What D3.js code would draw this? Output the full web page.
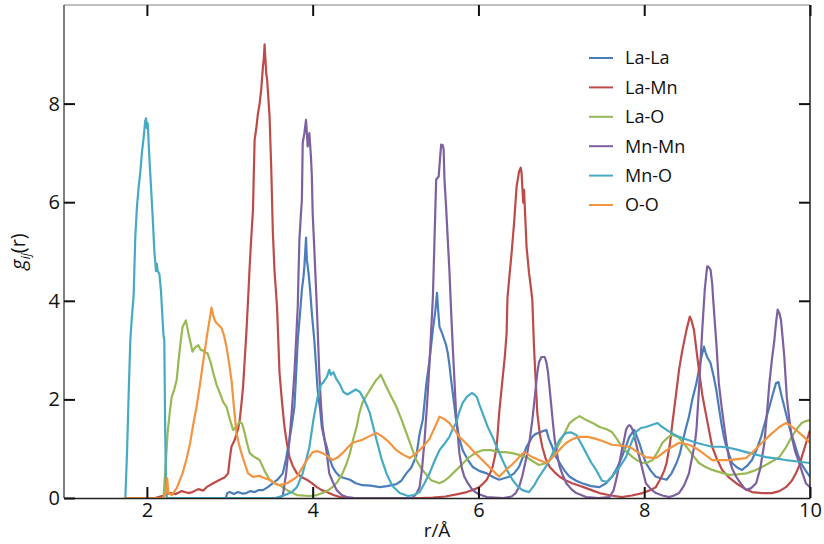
<!DOCTYPE html>
<html lang="en">
<head>
  <meta charset="UTF-8">
  <title>Partial radial distribution functions</title>
  <style>
    body { margin: 0; background: #fff; }
    svg { display: block; font-family: "Open Sans", "Noto Sans", sans-serif; }
  </style>
  <script src="https://d3js.org/d3.v7.min.js"></script>
</head>
<body>
  <svg id="chart" width="824" height="544"></svg>

  <script>
    // pair names, in legend order
    const pairNames = ['La-La', 'La-Mn', 'La-O', 'Mn-Mn', 'Mn-O', 'O-O'];
    const pairColors = ['#4a7ebb', '#be4b48', '#98b954', '#7d60a0', '#46aac5', '#f39440'];

    const xTicks = [2, 4, 6, 8, 10];
    const yTicks = [0, 2, 4, 6, 8];

    // g(r), [r, g]
    const laLa = [[2.95,0],[2.97,0.1],[3.0,0.12],[3.05,0.08],[3.1,0.12],[3.15,0.09],[3.2,0.1],[3.25,0.14],[3.3,0.12],[3.35,0.16],[3.4,0.16],[3.46,0.22],[3.52,0.3],[3.58,0.38],[3.64,0.5],[3.68,0.8],[3.72,1.18],[3.75,1.5],[3.78,1.85],[3.8,2.5],[3.82,3.2],[3.85,3.8],[3.87,4.22],[3.89,4.5],[3.9,4.7],[3.92,5.28],[3.93,4.83],[3.95,4.57],[3.97,4.2],[3.99,3.75],[4.02,3.2],[4.04,2.7],[4.06,2.19],[4.09,1.8],[4.11,1.44],[4.14,1.2],[4.17,1.04],[4.2,0.82],[4.24,0.63],[4.28,0.52],[4.33,0.43],[4.39,0.4],[4.45,0.37],[4.52,0.3],[4.6,0.26],[4.7,0.25],[4.81,0.22],[4.9,0.24],[5.01,0.28],[5.07,0.35],[5.13,0.5],[5.19,0.62],[5.25,0.85],[5.29,1.3],[5.33,1.6],[5.37,2.3],[5.41,2.8],[5.45,3.41],[5.48,3.8],[5.5,4.16],[5.51,3.9],[5.53,3.47],[5.56,3.35],[5.59,3.2],[5.61,3.1],[5.63,2.94],[5.65,2.7],[5.67,2.4],[5.7,2.0],[5.73,1.58],[5.77,1.2],[5.81,0.97],[5.87,0.78],[5.93,0.63],[6.01,0.55],[6.1,0.5],[6.18,0.42],[6.25,0.37],[6.31,0.4],[6.37,0.43],[6.43,0.5],[6.49,0.63],[6.54,0.85],[6.58,1.04],[6.62,1.15],[6.65,1.24],[6.69,1.3],[6.73,1.32],[6.78,1.36],[6.82,1.38],[6.85,1.2],[6.89,1.04],[6.93,0.85],[6.98,0.71],[7.04,0.55],[7.1,0.43],[7.18,0.35],[7.25,0.3],[7.36,0.24],[7.46,0.22],[7.54,0.3],[7.61,0.43],[7.67,0.6],[7.73,0.83],[7.78,1.05],[7.82,1.24],[7.88,1.38],[7.94,1.12],[7.98,0.9],[8.02,0.71],[8.08,0.55],[8.14,0.43],[8.2,0.4],[8.27,0.37],[8.33,0.5],[8.39,0.71],[8.43,0.9],[8.46,1.12],[8.5,1.4],[8.54,1.65],[8.58,2.0],[8.63,2.33],[8.66,2.6],[8.69,2.86],[8.72,3.07],[8.74,2.95],[8.76,2.86],[8.8,2.74],[8.84,2.45],[8.87,2.19],[8.9,1.85],[8.93,1.52],[8.96,1.25],[8.99,1.04],[9.03,0.85],[9.06,0.71],[9.12,0.62],[9.18,0.57],[9.24,0.65],[9.3,0.77],[9.36,1.0],[9.41,1.24],[9.46,1.55],[9.51,1.85],[9.55,2.1],[9.59,2.33],[9.62,2.35],[9.66,2.05],[9.69,1.85],[9.72,1.65],[9.76,1.38],[9.81,1.12],[9.85,0.9],[9.89,0.71],[9.95,0.55],[10,0.43]];

    const laMn = [[2.1,0],[2.2,0.05],[2.28,0.1],[2.35,0.08],[2.42,0.14],[2.5,0.1],[2.55,0.12],[2.62,0.18],[2.68,0.15],[2.72,0.22],[2.8,0.3],[2.88,0.37],[2.94,0.42],[2.98,0.5],[3.0,0.8],[3.02,1.04],[3.06,1.18],[3.1,1.4],[3.12,1.58],[3.14,1.9],[3.16,2.25],[3.18,2.8],[3.2,3.35],[3.22,4.0],[3.24,4.7],[3.26,5.3],[3.28,5.85],[3.29,6.6],[3.3,7.27],[3.32,7.5],[3.34,7.8],[3.36,8.0],[3.38,8.3],[3.4,8.75],[3.41,8.9],[3.42,9.2],[3.44,8.6],[3.45,8.5],[3.47,8.0],[3.48,7.74],[3.5,6.7],[3.52,5.38],[3.54,4.6],[3.57,3.88],[3.6,2.54],[3.63,1.95],[3.66,1.44],[3.69,1.1],[3.72,0.83],[3.76,0.65],[3.81,0.5],[3.87,0.42],[3.93,0.37],[3.99,0.3],[4.05,0.22],[4.11,0.16],[4.17,0.12],[4.25,0.06],[4.33,0.02],[4.5,0],[5.3,0],[5.45,0.01],[5.6,0.03],[5.75,0.08],[5.86,0.12],[5.94,0.17],[6.01,0.22],[6.06,0.3],[6.1,0.37],[6.14,0.5],[6.17,0.63],[6.2,0.85],[6.22,1.04],[6.25,1.72],[6.29,2.4],[6.32,2.9],[6.34,3.35],[6.35,4.06],[6.37,4.43],[6.4,4.97],[6.43,5.58],[6.46,6.31],[6.49,6.62],[6.51,6.7],[6.52,6.6],[6.54,5.99],[6.55,6.25],[6.57,5.5],[6.58,5.1],[6.61,4.57],[6.63,4.3],[6.65,4.02],[6.67,3.07],[6.69,2.4],[6.71,1.72],[6.74,1.3],[6.77,1.04],[6.81,0.8],[6.86,0.63],[6.92,0.52],[6.98,0.43],[7.05,0.36],[7.13,0.3],[7.22,0.25],[7.3,0.2],[7.38,0.15],[7.46,0.1],[7.6,0.05],[7.73,0.02],[7.85,0.05],[7.98,0.1],[8.06,0.15],[8.14,0.22],[8.2,0.4],[8.24,0.55],[8.27,0.71],[8.31,1.1],[8.34,1.52],[8.38,2.05],[8.42,2.6],[8.46,3.0],[8.51,3.41],[8.55,3.68],[8.57,3.6],[8.6,3.41],[8.63,3.0],[8.66,2.6],[8.7,2.1],[8.75,1.65],[8.82,1.04],[8.88,0.78],[8.94,0.57],[9.02,0.42],[9.11,0.3],[9.2,0.2],[9.3,0.12],[9.42,0.1],[9.54,0.1],[9.63,0.14],[9.71,0.22],[9.78,0.35],[9.83,0.5],[9.87,0.65],[9.9,0.83],[9.95,1.1],[10,1.38]];

    const laO = [[2.2,0],[2.22,0.5],[2.25,1.32],[2.28,1.8],[2.3,2.05],[2.33,2.2],[2.36,2.4],[2.38,2.75],[2.4,3.07],[2.43,3.47],[2.47,3.6],[2.5,3.35],[2.52,3.2],[2.55,2.97],[2.58,3.05],[2.62,3.1],[2.65,3.0],[2.67,3.0],[2.7,2.95],[2.73,2.94],[2.77,2.75],[2.8,2.54],[2.84,2.3],[2.88,2.13],[2.92,1.95],[2.96,1.85],[3.0,1.6],[3.04,1.38],[3.08,1.45],[3.12,1.55],[3.15,1.5],[3.18,1.32],[3.21,1.1],[3.24,0.91],[3.29,0.84],[3.33,0.8],[3.36,0.77],[3.42,0.55],[3.48,0.37],[3.54,0.3],[3.6,0.26],[3.7,0.15],[3.81,0.06],[3.96,0.04],[4.05,0.06],[4.12,0.1],[4.18,0.15],[4.24,0.22],[4.3,0.33],[4.36,0.5],[4.41,0.7],[4.45,0.91],[4.49,1.2],[4.53,1.44],[4.56,1.7],[4.6,1.93],[4.65,2.08],[4.69,2.19],[4.73,2.3],[4.77,2.4],[4.8,2.45],[4.82,2.5],[4.85,2.4],[4.89,2.25],[4.95,2.05],[5.01,1.85],[5.07,1.6],[5.13,1.32],[5.19,1.04],[5.25,0.77],[5.31,0.6],[5.37,0.48],[5.43,0.36],[5.53,0.3],[5.59,0.35],[5.65,0.43],[5.71,0.53],[5.77,0.63],[5.83,0.73],[5.89,0.83],[5.97,0.92],[6.05,0.97],[6.15,0.97],[6.25,0.93],[6.33,0.93],[6.41,0.91],[6.5,0.87],[6.58,0.83],[6.66,0.74],[6.73,0.67],[6.8,0.7],[6.86,0.77],[6.92,0.92],[6.98,1.12],[7.04,1.32],[7.1,1.52],[7.16,1.6],[7.22,1.66],[7.28,1.6],[7.34,1.55],[7.4,1.5],[7.46,1.44],[7.54,1.4],[7.61,1.34],[7.67,1.2],[7.73,1.04],[7.8,0.92],[7.86,0.83],[7.92,0.76],[7.98,0.71],[8.04,0.72],[8.1,0.77],[8.16,0.93],[8.22,1.12],[8.28,1.22],[8.33,1.28],[8.38,1.26],[8.42,1.22],[8.48,1.1],[8.54,0.97],[8.6,0.84],[8.66,0.71],[8.74,0.63],[8.82,0.57],[8.92,0.52],[9.02,0.47],[9.12,0.48],[9.23,0.5],[9.32,0.55],[9.42,0.63],[9.52,0.72],[9.63,0.83],[9.7,1.0],[9.78,1.24],[9.84,1.4],[9.9,1.52],[9.95,1.56],[10,1.58]];

    const mnMn = [[3.6,0],[3.64,0.05],[3.68,0.5],[3.72,1.18],[3.75,1.8],[3.78,2.54],[3.8,3.2],[3.82,3.88],[3.83,4.6],[3.84,5.24],[3.86,5.8],[3.87,6.05],[3.88,7.2],[3.9,7.4],[3.92,7.67],[3.93,7.4],[3.94,7.13],[3.96,7.4],[3.98,6.9],[3.99,6.52],[4.0,5.78],[4.02,5.04],[4.05,3.88],[4.08,2.54],[4.1,1.9],[4.12,1.44],[4.17,0.91],[4.2,0.5],[4.25,0.3],[4.29,0.16],[4.35,0.06],[4.41,0.02],[4.5,0],[5.2,0],[5.25,0.08],[5.29,0.22],[5.32,0.6],[5.35,1.18],[5.38,1.9],[5.41,2.74],[5.43,3.4],[5.45,4.06],[5.47,5.24],[5.49,6.46],[5.52,6.52],[5.54,6.96],[5.55,7.17],[5.57,7.15],[5.58,7.07],[5.59,6.46],[5.61,5.9],[5.63,5.24],[5.65,4.6],[5.67,3.8],[5.69,3.07],[5.71,2.4],[5.73,1.72],[5.75,1.3],[5.77,0.91],[5.8,0.6],[5.83,0.43],[5.88,0.28],[5.93,0.16],[6.0,0.08],[6.1,0.02],[6.3,0],[6.4,0.03],[6.45,0.1],[6.49,0.22],[6.53,0.45],[6.58,0.83],[6.62,1.2],[6.65,1.58],[6.68,2.05],[6.71,2.54],[6.73,2.75],[6.76,2.86],[6.8,2.86],[6.82,2.75],[6.84,2.54],[6.86,2.2],[6.88,1.85],[6.9,1.5],[6.92,1.18],[6.95,0.88],[6.98,0.63],[7.02,0.45],[7.06,0.3],[7.12,0.18],[7.18,0.1],[7.3,0.02],[7.45,0],[7.58,0.02],[7.63,0.15],[7.67,0.43],[7.7,0.7],[7.73,0.97],[7.76,1.2],[7.78,1.38],[7.8,1.45],[7.82,1.48],[7.84,1.45],[7.86,1.38],[7.88,1.25],[7.9,1.12],[7.93,0.9],[7.96,0.71],[7.99,0.5],[8.02,0.3],[8.08,0.18],[8.14,0.1],[8.22,0.05],[8.3,0.02],[8.36,0.05],[8.42,0.1],[8.48,0.25],[8.54,0.5],[8.58,0.85],[8.61,1.1],[8.63,1.38],[8.66,2.19],[8.68,2.8],[8.7,3.41],[8.72,3.95],[8.73,4.22],[8.75,4.55],[8.76,4.7],[8.78,4.68],[8.8,4.63],[8.82,4.35],[8.83,4.08],[8.85,3.6],[8.87,3.14],[8.9,2.33],[8.93,1.9],[8.96,1.52],[8.99,1.15],[9.02,0.83],[9.06,0.6],[9.11,0.43],[9.17,0.28],[9.23,0.16],[9.29,0.2],[9.35,0.3],[9.4,0.6],[9.45,1.12],[9.48,1.7],[9.51,2.33],[9.54,2.8],[9.57,3.2],[9.59,3.55],[9.61,3.82],[9.63,3.75],[9.65,3.61],[9.67,3.25],[9.69,2.86],[9.72,2.05],[9.75,1.6],[9.78,1.24],[9.82,0.95],[9.87,0.71],[9.91,0.5],[9.95,0.3],[10,0.22]];

    const mnO = [[1.74,0],[1.76,0.9],[1.78,2.1],[1.8,3.2],[1.82,3.7],[1.84,4.1],[1.86,5.3],[1.88,5.9],[1.9,6.3],[1.92,6.6],[1.94,7.0],[1.96,7.3],[1.98,7.65],[1.99,7.7],[2.0,7.5],[2.01,7.6],[2.03,6.9],[2.05,6.3],[2.07,5.7],[2.09,5.0],[2.11,4.6],[2.12,4.75],[2.13,4.6],[2.15,4.55],[2.17,4.2],[2.18,3.9],[2.19,3.6],[2.2,3.3],[2.21,3.2],[2.22,1.5],[2.23,0.3],[2.24,0],[3.55,0],[3.65,0.05],[3.75,0.12],[3.81,0.22],[3.88,0.5],[3.96,1.03],[4.01,1.6],[4.06,2.05],[4.1,2.3],[4.13,2.35],[4.17,2.45],[4.2,2.6],[4.22,2.5],[4.25,2.55],[4.29,2.4],[4.33,2.3],[4.37,2.15],[4.42,2.1],[4.47,2.15],[4.52,2.2],[4.57,2.15],[4.62,2.0],[4.66,1.85],[4.69,1.72],[4.73,1.45],[4.77,1.18],[4.83,0.8],[4.89,0.5],[4.96,0.25],[5.05,0.1],[5.15,0.04],[5.22,0.06],[5.29,0.12],[5.35,0.3],[5.41,0.5],[5.47,0.75],[5.53,0.97],[5.59,1.1],[5.65,1.24],[5.69,1.4],[5.73,1.52],[5.77,1.75],[5.81,1.93],[5.86,2.05],[5.92,2.13],[5.95,2.1],[5.98,2.05],[6.01,1.9],[6.05,1.72],[6.11,1.45],[6.17,1.24],[6.23,1.0],[6.29,0.77],[6.35,0.55],[6.41,0.37],[6.47,0.24],[6.53,0.16],[6.61,0.12],[6.67,0.25],[6.73,0.43],[6.8,0.6],[6.86,0.77],[6.92,1.0],[6.98,1.18],[7.03,1.28],[7.06,1.32],[7.12,1.33],[7.18,1.28],[7.24,1.1],[7.3,0.91],[7.36,0.72],[7.42,0.57],[7.49,0.35],[7.55,0.33],[7.61,0.43],[7.7,0.62],[7.78,0.83],[7.84,1.1],[7.9,1.34],[7.96,1.42],[8.02,1.44],[8.09,1.48],[8.16,1.52],[8.21,1.45],[8.27,1.38],[8.35,1.3],[8.42,1.24],[8.52,1.18],[8.63,1.12],[8.72,1.08],[8.82,1.04],[8.92,1.04],[9.02,1.02],[9.12,0.98],[9.23,0.93],[9.35,0.88],[9.47,0.83],[9.6,0.8],[9.71,0.77],[9.85,0.74],[10,0.71]];

    const oO = [[1.72,0],[2.2,0],[2.23,0.1],[2.245,0.4],[2.26,0.1],[2.3,0.06],[2.36,0.2],[2.43,0.5],[2.48,0.8],[2.52,1.1],[2.56,1.5],[2.6,1.85],[2.64,2.3],[2.67,2.66],[2.7,3.0],[2.73,3.35],[2.76,3.65],[2.78,3.86],[2.8,3.7],[2.82,3.6],[2.84,3.55],[2.87,3.5],[2.9,3.45],[2.93,3.3],[2.96,3.07],[2.99,2.75],[3.02,2.4],[3.05,1.85],[3.08,1.32],[3.11,1.1],[3.14,0.91],[3.18,0.7],[3.22,0.5],[3.28,0.43],[3.36,0.45],[3.42,0.4],[3.48,0.37],[3.54,0.3],[3.6,0.26],[3.69,0.3],[3.75,0.36],[3.81,0.43],[3.87,0.6],[3.93,0.77],[4.0,0.93],[4.06,0.95],[4.12,0.91],[4.18,0.85],[4.24,0.77],[4.3,0.82],[4.36,0.91],[4.42,1.02],[4.48,1.12],[4.54,1.15],[4.6,1.18],[4.68,1.25],[4.77,1.32],[4.83,1.26],[4.89,1.18],[4.95,1.08],[5.01,0.97],[5.09,0.88],[5.17,0.81],[5.23,0.88],[5.29,0.97],[5.35,1.08],[5.41,1.2],[5.47,1.42],[5.53,1.65],[5.59,1.6],[5.65,1.52],[5.71,1.38],[5.77,1.24],[5.83,1.14],[5.89,1.04],[5.95,0.93],[6.01,0.83],[6.07,0.73],[6.13,0.63],[6.19,0.53],[6.25,0.43],[6.29,0.5],[6.33,0.57],[6.4,0.67],[6.46,0.77],[6.51,0.86],[6.55,0.93],[6.6,0.88],[6.65,0.83],[6.73,0.77],[6.82,0.71],[6.88,0.8],[6.94,0.91],[7.0,1.02],[7.06,1.12],[7.14,1.2],[7.22,1.24],[7.32,1.24],[7.42,1.2],[7.52,1.14],[7.61,1.08],[7.72,1.06],[7.82,1.04],[7.92,0.93],[8.02,0.83],[8.14,0.81],[8.2,0.88],[8.27,0.97],[8.35,1.05],[8.42,1.12],[8.48,1.1],[8.54,1.08],[8.6,1.03],[8.66,0.97],[8.74,0.87],[8.82,0.77],[8.92,0.77],[9.02,0.77],[9.12,0.79],[9.23,0.81],[9.32,0.95],[9.42,1.12],[9.52,1.28],[9.63,1.44],[9.71,1.52],[9.77,1.46],[9.83,1.38],[9.92,1.25],[10,1.12]];

    const seriesData = [laLa, laMn, laO, mnMn, mnO, oO];

    // layout
    const svg = d3.select('#chart');
    const margin = { left: 64, right: 14, top: 5, bottom: 46 };
    const width = 824, height = 544;
    const x0 = margin.left, x1 = width - margin.right;
    const y0 = height - margin.bottom, y1 = margin.top;

    const x = d3.scaleLinear().domain([1, 10]).range([x0, x1]);
    const y = d3.scaleLinear().domain([0, 10]).range([y0, y1]);

    svg.append('defs').append('clipPath').attr('id', 'plot-clip')
      .append('rect')
      .attr('x', x0).attr('y', y1)
      .attr('width', x1 - x0).attr('height', y0 - y1);

    // curves
    const line = d3.line()
      .x(d => x(d[0]))
      .y(d => y(d[1]))
      .curve(d3.curveLinear);

    svg.append('g')
      .attr('clip-path', 'url(#plot-clip)')
      .selectAll('path')
      .data(seriesData)
      .join('path')
      .attr('fill', 'none')
      .attr('stroke', (d, i) => pairColors[i])
      .attr('stroke-width', 2.2)
      .attr('stroke-linejoin', 'round')
      .attr('d', line);

    // frame
    const frame = svg.append('g');
    frame.append('line').attr('x1', x0).attr('x2', x1).attr('y1', y1).attr('y2', y1)
      .attr('stroke', '#aaa').attr('stroke-width', 1.5);
    frame.append('line').attr('x1', x0).attr('x2', x0).attr('y1', y1).attr('y2', y0)
      .attr('stroke', '#555').attr('stroke-width', 1.5);
    frame.append('line').attr('x1', x1).attr('x2', x1).attr('y1', y1).attr('y2', y0)
      .attr('stroke', '#222').attr('stroke-width', 1.5);

    // axes, ticks pointing inward
    const tickLen = 11;
    const xAxis = svg.append('g')
      .attr('transform', `translate(0,${y0})`)
      .call(d3.axisBottom(x).tickValues(xTicks).tickSizeInner(-tickLen).tickSizeOuter(0).tickPadding(5).tickFormat(d3.format('d')));
    const yAxis = svg.append('g')
      .attr('transform', `translate(${x0},0)`)
      .call(d3.axisLeft(y).tickValues(yTicks).tickSizeInner(-tickLen).tickSizeOuter(0).tickPadding(4).tickFormat(d3.format('d')));

    xAxis.select('.domain').attr('stroke', '#222').attr('stroke-width', 1.5);
    yAxis.select('.domain').remove();
    [xAxis, yAxis].forEach(ax => {
      ax.selectAll('.tick line').attr('stroke', '#111').attr('stroke-width', 2);
      ax.selectAll('.tick text')
        .attr('fill', '#111')
        .style('font-size', '20px')
        .style('font-family', '"Open Sans", "Noto Sans", sans-serif');
    });

    // mirrored ticks on top and right
    svg.append('g')
      .attr('transform', `translate(0,${y1})`)
      .call(d3.axisTop(x).tickValues(xTicks).tickSizeInner(-tickLen).tickSizeOuter(0).tickFormat(''))
      .call(g => g.select('.domain').remove())
      .selectAll('.tick line').attr('stroke', '#111').attr('stroke-width', 2);
    svg.append('g')
      .attr('transform', `translate(${x1},0)`)
      .call(d3.axisRight(y).tickValues(yTicks.filter(v => v > 0)).tickSizeInner(-tickLen).tickSizeOuter(0).tickFormat(''))
      .call(g => g.select('.domain').remove())
      .selectAll('.tick line').attr('stroke', '#111').attr('stroke-width', 2);

    // axis titles
    svg.append('text')
      .attr('x', (x0 + x1) / 2)
      .attr('y', 537)
      .attr('text-anchor', 'middle')
      .style('font-size', '19px')
      .attr('fill', '#111')
      .text('r/Å');

    const yTitle = svg.append('text')
      .attr('transform', `translate(25,${(y0 + y1) / 2}) rotate(-90)`)
      .attr('text-anchor', 'middle')
      .style('font-size', '20px')
      .attr('fill', '#111');
    yTitle.append('tspan').style('font-style', 'italic').text('g');
    yTitle.append('tspan').style('font-style', 'italic').style('font-size', '12px').attr('dy', 5).text('ij');
    yTitle.append('tspan').attr('dy', -5).text('(r)');

    // legend
    const legend = svg.append('g')
      .selectAll('g')
      .data(pairNames)
      .join('g')
      .attr('transform', (d, i) => `translate(589,${58 + i * 29.4})`);
    legend.append('line')
      .attr('x1', 0).attr('x2', 24)
      .attr('stroke', (d, i) => pairColors[i])
      .attr('stroke-width', 2);
    legend.append('text')
      .attr('x', 36)
      .attr('dy', '0.35em')
      .style('font-size', '18px')
      .attr('fill', '#111')
      .text(d => d);
  </script>
</body>
</html>
